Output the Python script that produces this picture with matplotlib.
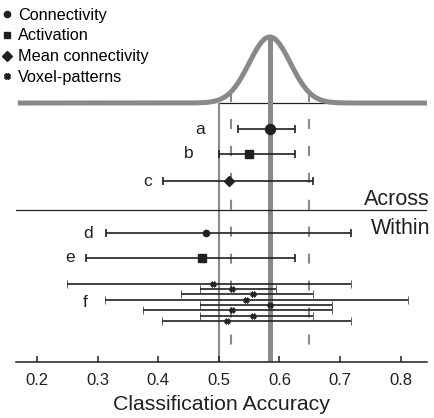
import numpy as np
import matplotlib
matplotlib.use('Agg')
import matplotlib.pyplot as plt
from matplotlib.lines import Line2D

plt.rcParams['font.family'] = ['Liberation Sans', 'DejaVu Sans']
plt.rcParams['lines.scale_dashes'] = False

# classification accuracy with confidence intervals
row_labels = ['a', 'b', 'c', 'd', 'e']
row_kinds = ['Connectivity', 'Activation', 'Mean connectivity', 'Connectivity', 'Activation']
row_acc = [0.584, 0.550, 0.517, 0.478, 0.472]
row_lo = [0.531, 0.500, 0.407, 0.313, 0.281]
row_hi = [0.625, 0.625, 0.656, 0.718, 0.625]

# f: voxel-pattern classifiers
vox_acc = [0.491, 0.521, 0.557, 0.544, 0.584, 0.521, 0.557, 0.513]
vox_lo = [0.250, 0.469, 0.437, 0.312, 0.469, 0.374, 0.469, 0.406]
vox_hi = [0.718, 0.594, 0.656, 0.812, 0.687, 0.687, 0.656, 0.718]

chance = 0.5
null_mean = 0.584
null_sd = 0.034
null_ci = [0.520, 0.648]

gray = '#898989'
black = '#231f20'

fig = plt.figure(figsize=(4.34, 4.18), dpi=100)
ax = fig.add_axes([16 / 434, 1 - 362 / 418, 411 / 434, 362 / 418])
xmin, xmax = 0.165, 0.8436
ax.set_xlim(xmin, xmax)
ax.set_ylim(362, 0)

# vertical layout in pixel-like units
row_y = [129, 154, 181, 233, 258]
vox_y = [284, 289.3, 294.3, 300, 305, 310.3, 315.7, 320.7]
base_y = 103
peak_h = 66

# null distribution
xs = np.linspace(0.168, xmax, 400)
ys = base_y - peak_h * np.exp(-(xs - null_mean) ** 2 / (2 * null_sd ** 2))
ax.plot(xs, ys, color=gray, lw=3.6, solid_capstyle='butt', zorder=2)
ax.hlines(base_y, chance, xmax, color=black, lw=0.9, zorder=1)

def curve_at(v):
    return base_y - peak_h * np.exp(-(v - null_mean) ** 2 / (2 * null_sd ** 2))

ax.vlines(chance, base_y, 362, color=gray, lw=1.5, zorder=1)
ax.vlines(null_mean, curve_at(null_mean), 362, color=gray, lw=3.6, zorder=1)
for v in null_ci:
    ax.vlines(v, curve_at(v), 362, color=gray, lw=1.5, linestyles=[(0, (7.2, 12.2))], zorder=1)

markers = {'Connectivity': 'o', 'Activation': 's', 'Mean connectivity': 'D', 'Voxel-patterns': 'X'}
sizes = [7.2, 5.5, 5.0, 4.5, 6.0]
for i in range(len(row_labels)):
    a = row_acc[i]
    ax.errorbar(a, row_y[i], xerr=[[a - row_lo[i]], [row_hi[i] - a]],
                fmt=markers[row_kinds[i]], color=black, ms=sizes[i],
                elinewidth=1.2, capsize=2.6, capthick=1.2, zorder=3)

for i in range(len(vox_acc)):
    a = vox_acc[i]
    ax.errorbar(a, vox_y[i], xerr=[[a - vox_lo[i]], [vox_hi[i] - a]],
                fmt='X', color=black, ms=4.2, mew=0.5,
                elinewidth=1.2, capsize=2.6, capthick=1.2, zorder=3)

# row letters
label_x = [0.469, 0.451, 0.382, 0.284, 0.254]
for i in range(len(row_labels)):
    ax.text(label_x[i], row_y[i], row_labels[i], ha='center', va='center', fontsize=12.5, color=black)
ax.text(0.279, np.mean(vox_y), 'f', ha='center', va='center', fontsize=12.5, color=black)

# across / within separator
ax.axhline(210, color=black, lw=0.9)
ax.text(xmax + 0.005, 205, 'Across', ha='right', va='baseline', fontsize=15.5, color=black)
ax.text(xmax + 0.005, 217.5, 'Within', ha='right', va='top', fontsize=15.5, color=black)

# legend
leg_ms = {'Connectivity': 4.5, 'Activation': 5.0, 'Mean connectivity': 5.0, 'Voxel-patterns': 4.0}
handles = [Line2D([], [], ls='none', marker=markers[k], color=black, ms=leg_ms[k]) for k in markers]
ax.legend(handles, list(markers), loc='upper left', bbox_to_anchor=(-0.049, 0.997),
          frameon=False, fontsize=11.7, handlelength=0.6, handletextpad=0.35,
          labelspacing=0.36, borderaxespad=0)

for s in ['top', 'left', 'right']:
    ax.spines[s].set_visible(False)
ax.spines['bottom'].set_linewidth(1.1)
ax.spines['bottom'].set_color(black)
ax.set_yticks([])
ax.set_xticks([0.2, 0.3, 0.4, 0.5, 0.6, 0.7, 0.8])
ax.tick_params(axis='x', direction='in', length=4, width=1.1, pad=8, labelsize=12, colors=black)
ax.set_xlabel('Classification Accuracy', fontsize=15.3, color=black, labelpad=5)

fig.savefig('out.png', dpi=100)
